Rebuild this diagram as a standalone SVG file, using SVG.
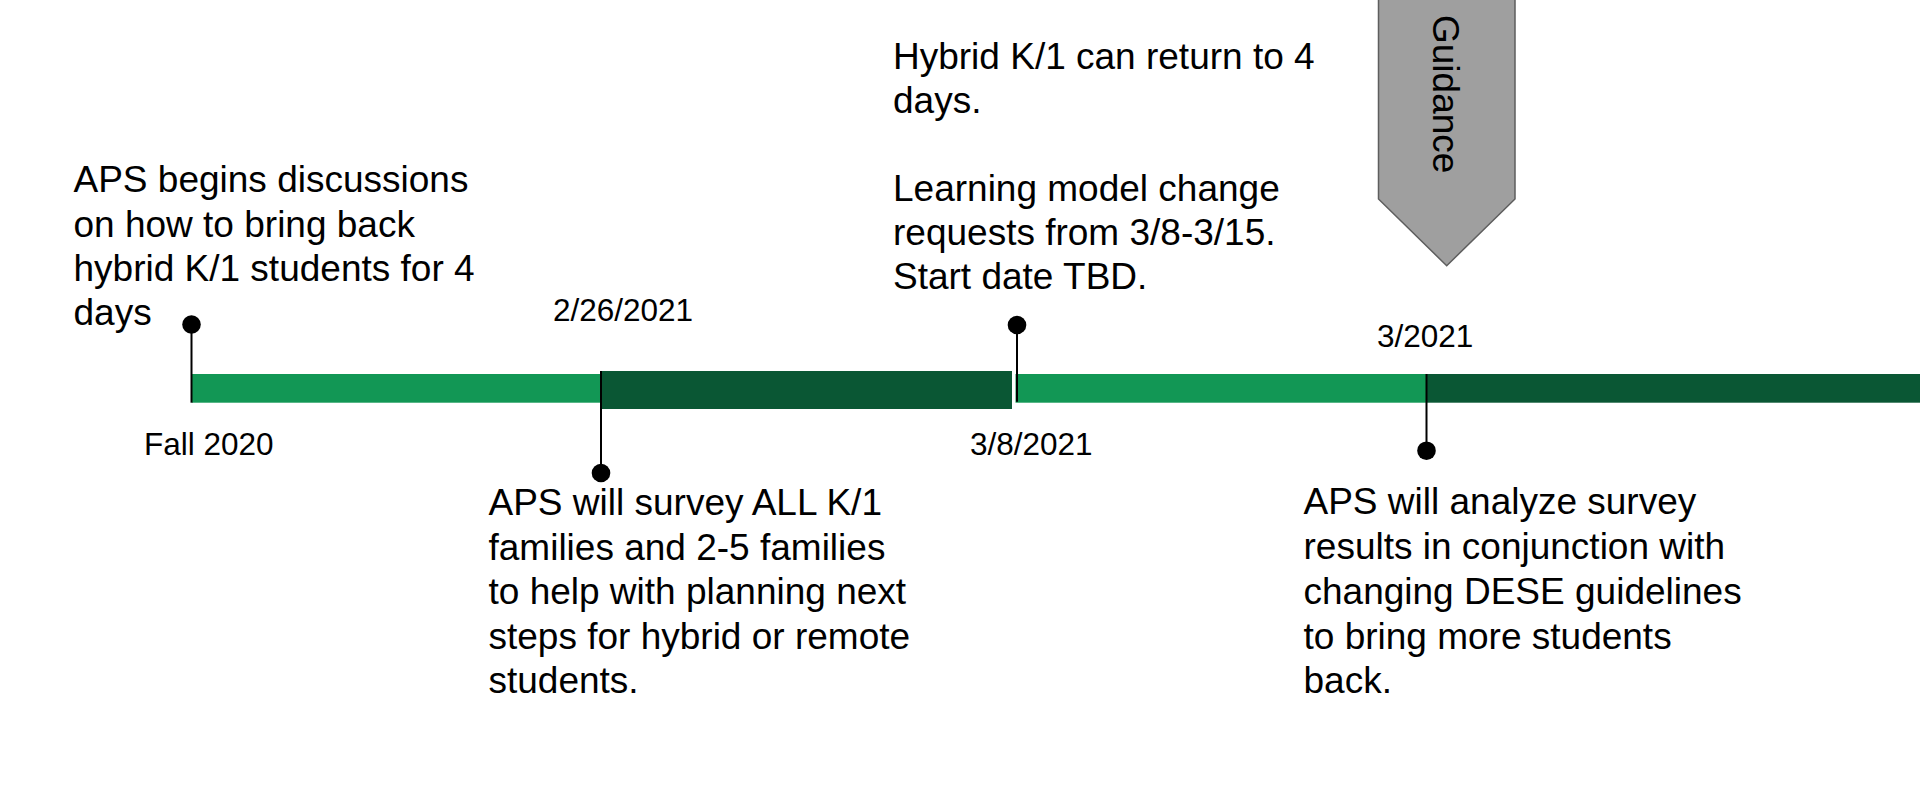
<svg xmlns="http://www.w3.org/2000/svg" width="1920" height="806" viewBox="0 0 1920 806">
<style>
.body{font-family:"Liberation Sans",Arial,sans-serif;font-size:37px;fill:#000}
.date{font-family:"Liberation Sans",Arial,sans-serif;font-size:31.5px;fill:#000}
.light{fill:#129755}
.dark{fill:#0A5734}
.conn{stroke:#000;stroke-width:2;fill:none}
.dot{fill:#000}
</style>
<rect width="1920" height="806" fill="#fff"/>
<g id="timeline">
<rect class="light" x="192" y="374" width="408" height="28.7"/>
<rect class="dark" x="601" y="371" width="411" height="38"/>
<rect class="light" x="1015.5" y="374" width="411" height="28.7"/>
<rect class="dark" x="1426.5" y="374" width="494" height="28.7"/>
</g>
<g id="connectors">
<line class="conn" x1="191.5" y1="325" x2="191.5" y2="402.7"/>
<line class="conn" x1="601" y1="371" x2="601" y2="473"/>
<line class="conn" x1="1017" y1="325" x2="1017" y2="401.7"/>
<line class="conn" x1="1426.5" y1="374" x2="1426.5" y2="450.7"/>
</g>
<g id="event-fall2020">
<circle class="dot" cx="191.5" cy="324.5" r="9.3"/>
<text class="date" x="144" y="455">Fall 2020</text>
<text class="body" x="73.5"><tspan x="73.5" y="192">APS begins discussions</tspan><tspan x="73.5" y="236.5">on how to bring back</tspan><tspan x="73.5" y="281">hybrid K/1 students for 4</tspan><tspan x="73.5" y="325">days</tspan></text>
</g>
<g id="event-0226">
<circle class="dot" cx="601" cy="473" r="9.3"/>
<text class="date" x="553" y="321">2/26/2021</text>
<text class="body"><tspan x="488.5" y="515">APS will survey ALL K/1</tspan><tspan x="488.5" y="559.5">families and 2-5 families</tspan><tspan x="488.5" y="604">to help with planning next</tspan><tspan x="488.5" y="648.5">steps for hybrid or remote</tspan><tspan x="488.5" y="693">students.</tspan></text>
</g>
<g id="event-0308">
<circle class="dot" cx="1017" cy="325" r="9.3"/>
<text class="date" x="970" y="455">3/8/2021</text>
<text class="body"><tspan x="893" y="68.5">Hybrid K/1 can return to 4</tspan><tspan x="893" y="112.5">days.</tspan><tspan x="893" y="200.5">Learning model change</tspan><tspan x="893" y="244.5">requests from 3/8-3/15.</tspan><tspan x="893" y="288.5">Start date TBD.</tspan></text>
</g>
<g id="event-032021">
<circle class="dot" cx="1426.5" cy="450.7" r="9.3"/>
<text class="date" x="1377" y="347">3/2021</text>
<text class="body"><tspan x="1303.5" y="513.5">APS will analyze survey</tspan><tspan x="1303.5" y="558.5">results in conjunction with</tspan><tspan x="1303.5" y="603.5">changing DESE guidelines</tspan><tspan x="1303.5" y="648.5">to bring more students</tspan><tspan x="1303.5" y="693">back.</tspan></text>
</g>
<g id="guidance">
<path d="M1378.5,-2 L1515,-2 L1515,199 L1446.7,265.7 L1378.5,199 Z" fill="#9f9f9f" stroke="#5e5e5e" stroke-width="1.5"/>
<text class="body" transform="translate(1433,15) rotate(90)" x="0" y="0">Guidance</text>
</g>
</svg>
